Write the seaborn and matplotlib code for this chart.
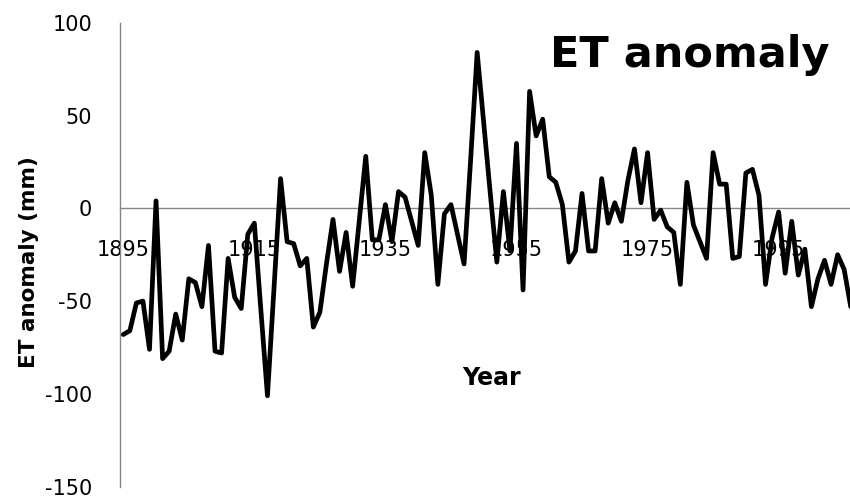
import numpy as np
import pandas as pd
import matplotlib
matplotlib.use("Agg")
import matplotlib.pyplot as plt
import seaborn as sns

# Annual evapotranspiration anomaly (mm), 1895 onwards
first_year = 1895
et_anomaly = [
    -68, -66, -51, -50, -76, 4, -81, -77, -57, -71,
    -38, -40, -53, -20, -77, -78, -27, -48, -54, -14,
    -8, -55, -101, -43, 16, -18, -19, -31, -27, -64,
    -56, -30, -6, -34, -13, -42, -7, 28, -17, -17,
    2, -18, 9, 6, -7, -20, 30, 7, -41, -3,
    2, -14, -30, 26, 84, 46, 8, -29, 9, -23,
    35, -44, 63, 39, 48, 17, 14, 2, -29, -23,
    8, -23, -23, 16, -8, 3, -7, 15, 32, 3,
    30, -6, -1, -10, -13, -41, 14, -9, -18, -27,
    30, 13, 13, -27, -26, 19, 21, 7, -41, -16,
    -2, -35, -7, -36, -22, -53, -38, -28, -41, -25,
    -33, -53,
]
years = list(range(first_year, first_year + len(et_anomaly)))
label_years = [1895, 1915, 1935, 1955, 1975, 1995]
y_ticks = [-150, -100, -50, 0, 50, 100]

df = pd.DataFrame({"Year": years, "ET anomaly": et_anomaly})

sns.set_style("white")
plt.rcParams["font.family"] = ["DejaVu Sans"]
plt.rcParams["text.color"] = "black"

W, H = 850, 498
fig = plt.figure(figsize=(W / 100, H / 100), dpi=100)

# axes spans pixel columns 120..854 and rows 22.7..486.7
ax_left, ax_right = 120, 854
ax_top, ax_bottom = 22.7, 486.7
ax = fig.add_axes([ax_left / W, 1 - ax_bottom / H,
                   (ax_right - ax_left) / W, (ax_bottom - ax_top) / H])

sns.lineplot(data=df, x="Year", y="ET anomaly", color="black",
             linewidth=3.4, ax=ax, zorder=3)

grey = "#868686"
ax.set_xlim(first_year - 0.5, years[-1] + 0.5)
ax.set_ylim(-150, 100)

for side in ("top", "right"):
    ax.spines[side].set_visible(False)
ax.spines["bottom"].set_position(("data", 0))
for side in ("left", "bottom"):
    ax.spines[side].set_color(grey)
    ax.spines[side].set_linewidth(1.0)

# category labels centred on the years, tick marks between categories
ax.set_xticks(label_years)
ax.set_xticklabels([str(y) for y in label_years])
ax.set_xticks([y - 0.5 for y in label_years], minor=True)
ax.tick_params(axis="x", which="major", length=0, pad=22.5,
               labelsize=15, labelcolor="black")
ax.tick_params(axis="x", which="minor", length=4.5, width=1.0,
               color=grey, direction="out")

ax.set_yticks(y_ticks)
ax.set_yticklabels([str(v) for v in y_ticks])
ax.tick_params(axis="y", which="major", length=5.5, width=1.0,
               color=grey, direction="out", pad=14.5,
               labelsize=15, labelcolor="black")

ax.set_xlabel("")
ax.set_ylabel("")
ax.grid(False)

fig.text(29 / W, 1 - 262 / H, "ET anomaly (mm)", rotation=90,
         ha="center", va="center", fontsize=15.5, fontweight="bold",
         color="black")
fig.text(491 / W, 1 - 378 / H, "Year", ha="center", va="center",
         fontsize=17, fontweight="bold", color="black")
fig.text(830 / W, 1 - 67 / H, "ET anomaly", ha="right", va="baseline",
         fontsize=31, fontweight="bold", color="black")

fig.savefig("out.png", dpi=100)
